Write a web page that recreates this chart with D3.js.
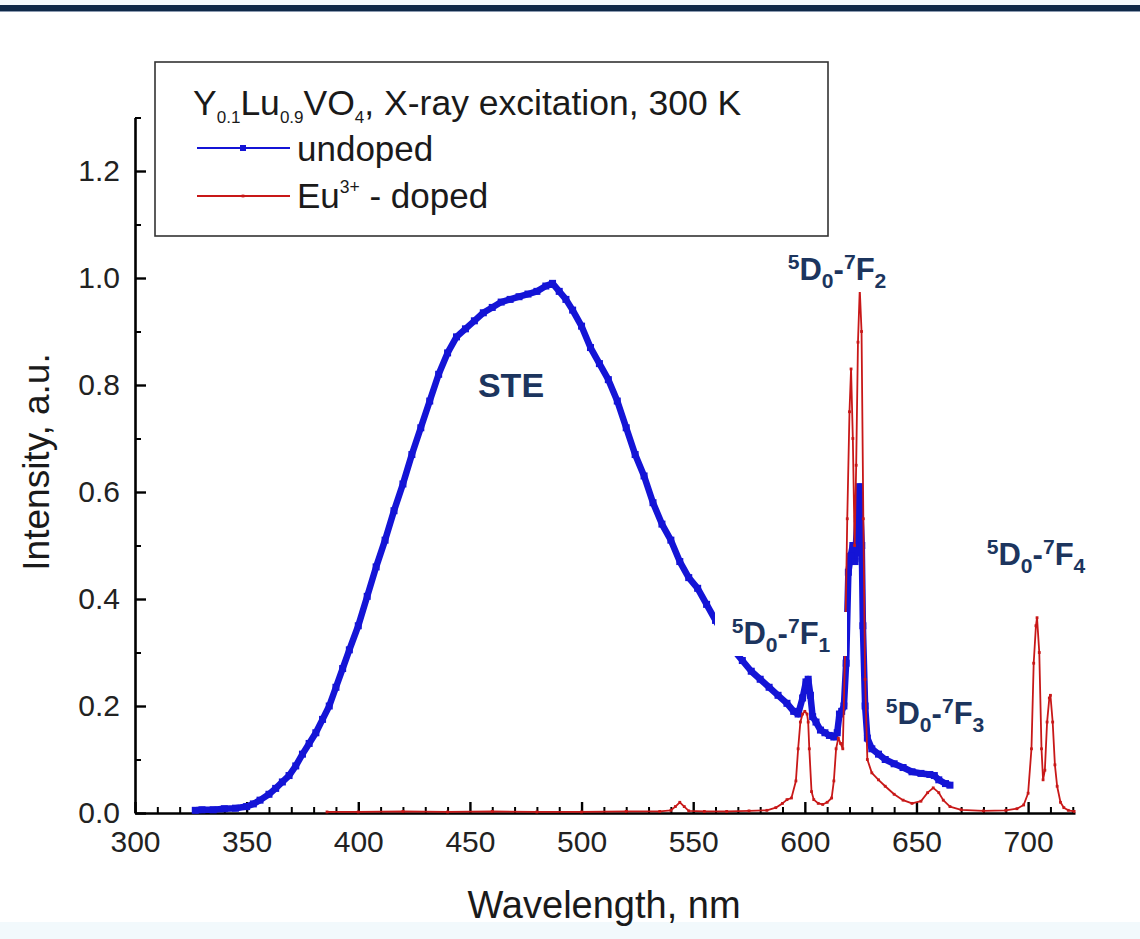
<!DOCTYPE html>
<html>
<head>
<meta charset="utf-8">
<script src="https://cdn.jsdelivr.net/npm/d3@7"></script>
<style>
  html, body { margin: 0; padding: 0; background: #ffffff; }
  svg { display: block; }
  text { font-family: Arial, "Liberation Sans", sans-serif; }
</style>
</head>
<body>
<svg id="chart" width="1140" height="939"></svg>
<script>
// Undoped Y0.1Lu0.9VO4 (STE band + weak Eu impurity lines)
const undopedWl = [327, 330, 335, 340, 345, 350, 353, 356, 360, 363, 366, 369, 372, 375, 378, 381, 384, 387, 390, 393, 396, 400,
  404, 408, 412, 416, 420, 424, 428, 432, 436, 440, 444, 448, 452, 456, 460, 464, 468, 472, 476, 480, 484, 487, 490, 493,
  496, 500, 504, 508, 512, 516, 520, 524, 528, 532, 536, 540, 544, 548, 552, 556, 560, 564, 568, 572, 576, 580, 584, 588,
  592, 595, 597, 599, 600.5, 601.5, 602.5, 603.5, 605, 607, 609, 611, 613, 614.5, 615.5, 616.5, 617.5, 618.5, 619.5,
  620.5, 621.5, 622.5, 623.5, 624.5, 625.5, 626, 627, 628, 630, 633, 636, 640, 644, 648, 652, 656, 658, 660, 663, 665];
const undopedI = [0.005, 0.006, 0.006, 0.008, 0.009, 0.012, 0.017, 0.024, 0.035, 0.046, 0.058, 0.07, 0.088, 0.11, 0.13, 0.15,
  0.175, 0.2, 0.235, 0.27, 0.305, 0.35, 0.405, 0.46, 0.51, 0.565, 0.615, 0.67, 0.72, 0.77, 0.82, 0.86, 0.89, 0.905, 0.92,
  0.935, 0.945, 0.955, 0.96, 0.965, 0.97, 0.975, 0.985, 0.99, 0.975, 0.96, 0.94, 0.91, 0.87, 0.84, 0.81, 0.77, 0.72, 0.67,
  0.63, 0.58, 0.54, 0.51, 0.47, 0.44, 0.42, 0.39, 0.36, 0.33, 0.305, 0.285, 0.265, 0.25, 0.235, 0.22, 0.205, 0.19, 0.185,
  0.215, 0.245, 0.25, 0.22, 0.18, 0.17, 0.155, 0.15, 0.145, 0.142, 0.15, 0.185, 0.19, 0.2, 0.28, 0.45, 0.48, 0.5, 0.47,
  0.55, 0.61, 0.5, 0.35, 0.2, 0.14, 0.12, 0.11, 0.1, 0.092, 0.085, 0.077, 0.074, 0.072, 0.07, 0.062, 0.055, 0.052];

// Eu3+-doped sample (5D0 -> 7FJ lines)
const dopedWl = [386, 400, 420, 440, 460, 480, 500, 520, 535, 540, 542, 544, 546, 548, 555, 565, 575, 583, 587, 590, 592, 594,
  596, 597, 598, 599, 600, 601, 601.5, 602, 603, 604, 606, 608, 610, 612, 613, 614, 615, 616, 617, 618, 619, 620, 620.7,
  621.5, 622.3, 623, 623.8, 624.6, 625.4, 626.2, 627, 628, 630, 633, 636, 640, 644, 648, 652, 655, 657.5, 660, 662, 665,
  670, 680, 690, 695, 698, 700, 701.5, 702.5, 703.5, 704, 705, 706, 706.7, 707.5, 708.5, 709.5, 710, 711, 712, 713, 714.5,
  716, 718, 720.6];
const dopedI = [0.002, 0.002, 0.003, 0.002, 0.003, 0.002, 0.002, 0.003, 0.003, 0.005, 0.012, 0.02, 0.012, 0.004, 0.003, 0.003,
  0.004, 0.005, 0.01, 0.018, 0.025, 0.028, 0.06, 0.12, 0.17, 0.185, 0.19, 0.185, 0.17, 0.12, 0.04, 0.025, 0.018, 0.016,
  0.02, 0.028, 0.06, 0.12, 0.14, 0.13, 0.12, 0.3, 0.55, 0.75, 0.83, 0.7, 0.5, 0.65, 0.88, 0.98, 0.9, 0.55, 0.25, 0.1,
  0.075, 0.062, 0.05, 0.035, 0.024, 0.018, 0.022, 0.038, 0.047, 0.038, 0.024, 0.012, 0.006, 0.004, 0.005, 0.008, 0.015,
  0.037, 0.12, 0.28, 0.35, 0.365, 0.3, 0.12, 0.062, 0.08, 0.17, 0.215, 0.22, 0.17, 0.09, 0.05, 0.02, 0.01, 0.005, 0.003];

const xMajorTicks = [300, 350, 400, 450, 500, 550, 600, 650, 700];
const yMajorTicks = [0, 0.2, 0.4, 0.6, 0.8, 1.0, 1.2];

const svg = d3.select("#chart");
const W = 1140, H = 939;

// page frame: dark rule along the top, pale strip at the bottom
svg.append("rect").attr("x", 0).attr("y", 0).attr("width", W).attr("height", H).attr("fill", "#ffffff");
svg.append("rect").attr("x", 0).attr("y", 0).attr("width", W).attr("height", 5).attr("fill", "#f4f9fc");
svg.append("rect").attr("x", 0).attr("y", 5).attr("width", W).attr("height", 6).attr("fill", "#0f2848");
svg.append("rect").attr("x", 0).attr("y", 11).attr("width", W).attr("height", 1).attr("fill", "#8b9ab0");
svg.append("rect").attr("x", 0).attr("y", 922).attr("width", W).attr("height", 17).attr("fill", "#f2f9fc");

const x = d3.scaleLinear().domain([300, 721]).range([135, 1075]);
const y = d3.scaleLinear().domain([0, 1.3]).range([813, 117.5]);

const axisColor = "#000";

// minor ticks
const xMinor = d3.range(310, 721, 10).filter(v => v % 50 !== 0);
const yMinor = d3.range(1, 14, 2).map(v => v / 10);

svg.append("g").attr("transform", `translate(0,${y(0)})`)
  .call(d3.axisBottom(x).tickValues(xMinor).tickSizeInner(-6).tickSizeOuter(0).tickFormat(""))
  .call(g => g.select(".domain").remove())
  .call(g => g.selectAll("line").attr("stroke", axisColor).attr("stroke-width", 2));

svg.append("g").attr("transform", `translate(${x(300)},0)`)
  .call(d3.axisLeft(y).tickValues(yMinor).tickSizeInner(-6).tickSizeOuter(0).tickFormat(""))
  .call(g => g.select(".domain").remove())
  .call(g => g.selectAll("line").attr("stroke", axisColor).attr("stroke-width", 2));

const xAxis = svg.append("g").attr("transform", `translate(0,${y(0)})`)
  .call(d3.axisBottom(x).tickValues(xMajorTicks).tickSizeInner(-11).tickSizeOuter(0).tickPadding(18).tickFormat(d3.format("d")));
xAxis.select(".domain").attr("stroke", axisColor).attr("stroke-width", 2.6);
xAxis.selectAll(".tick line").attr("stroke", axisColor).attr("stroke-width", 2.4);
xAxis.selectAll(".tick text").attr("fill", "#222").style("font-size", "30px");

const yAxis = svg.append("g").attr("transform", `translate(${x(300)},0)`)
  .call(d3.axisLeft(y).tickValues(yMajorTicks).tickSizeInner(-11).tickSizeOuter(0).tickPadding(15).tickFormat(d3.format(".1f")));
yAxis.select(".domain").attr("stroke", axisColor).attr("stroke-width", 2.6);
yAxis.selectAll(".tick line").attr("stroke", axisColor).attr("stroke-width", 2.4);
yAxis.selectAll(".tick text").attr("fill", "#222").style("font-size", "30px");

// axis titles
svg.append("text").attr("x", 604).attr("y", 918).attr("text-anchor", "middle")
  .style("font-size", "38px").attr("fill", "#1a1a1a").text("Wavelength, nm");
svg.append("text").attr("transform", "translate(49,462) rotate(-90)").attr("text-anchor", "middle")
  .style("font-size", "37px").attr("fill", "#1a1a1a").text("Intensity, a.u.");

// spectra
const undoped = undopedWl.map((w, i) => ({ w, v: undopedI[i] }));
const doped = dopedWl.map((w, i) => ({ w, v: dopedI[i] }));
const line = d3.line().x(d => x(d.w)).y(d => y(d.v));

const blue = "#1414d6";
const red = "#c81818";

svg.append("path").datum(undoped).attr("d", line).attr("fill", "none")
  .attr("stroke", blue).attr("stroke-width", 6.5).attr("stroke-linejoin", "round");
svg.append("g").selectAll("rect").data(undoped).join("rect")
  .attr("x", d => x(d.w) - 3.5).attr("y", d => y(d.v) - 3.5)
  .attr("width", 7).attr("height", 7).attr("fill", blue);

svg.append("path").datum(doped).attr("d", line).attr("fill", "none")
  .attr("stroke", red).attr("stroke-width", 1.8).attr("stroke-linejoin", "round");
svg.append("g").selectAll("rect").data(doped).join("rect")
  .attr("x", d => x(d.w) - 1.4).attr("y", d => y(d.v) - 1.4)
  .attr("width", 2.8).attr("height", 2.8).attr("fill", red);

// rich text helper: segments of [text, "sub" | "sup" | ""]
function richText(g, segs, size, smallScale, subShift, supShift) {
  const t = g.append("text").style("font-size", size + "px");
  let cur = 0;
  segs.forEach(([s, mode]) => {
    const target = mode === "sub" ? subShift : mode === "sup" ? -supShift : 0;
    t.append("tspan")
      .attr("dy", (target - cur) + "px")
      .style("font-size", (mode ? size * smallScale : size) + "px")
      .text(s);
    cur = target;
  });
  return t;
}

// legend
const lg = svg.append("g");
lg.append("rect").attr("x", 155).attr("y", 62).attr("width", 673).attr("height", 174)
  .attr("fill", "#fff").attr("stroke", "#333").attr("stroke-width", 1.6);
richText(lg.append("g").attr("transform", "translate(193,115)"),
  [["Y", ""], ["0.1", "sub"], ["Lu", ""], ["0.9", "sub"], ["VO", ""], ["4", "sub"], [", X-ray excitation, 300 K", ""]],
  35.5, 0.48, 8, 0).attr("fill", "#1a1a1a");
lg.append("line").attr("x1", 197).attr("x2", 290).attr("y1", 148).attr("y2", 148).attr("stroke", blue).attr("stroke-width", 1.8);
lg.append("rect").attr("x", 240).attr("y", 145).attr("width", 6).attr("height", 6).attr("fill", blue);
lg.append("line").attr("x1", 197).attr("x2", 290).attr("y1", 196).attr("y2", 196).attr("stroke", red).attr("stroke-width", 1.8);
lg.append("rect").attr("x", 241.6).attr("y", 194.6).attr("width", 2.8).attr("height", 2.8).attr("fill", red);
lg.append("text").attr("x", 297).attr("y", 161).style("font-size", "35px").attr("fill", "#1a1a1a").text("undoped");
richText(lg.append("g").attr("transform", "translate(297,208)"),
  [["Eu", ""], ["3+", "sup"], [" - doped", ""]], 35, 0.5, 0, 15).attr("fill", "#1a1a1a");

// transition labels on white plates
const navy = "#1c355e";
function transition(cx, baseline, j, plate) {
  const g = svg.append("g");
  if (plate) g.append("rect").attr("x", cx - plate[0] / 2).attr("y", baseline - 32)
    .attr("width", plate[0]).attr("height", plate[1]).attr("fill", "#fff");
  return richText(g, [["5", "sup"], ["D", ""], ["0", "sub"], ["-", ""], ["7", "sup"], ["F", ""], [String(j), "sub"]],
    31, 0.68, 8, 11).attr("fill", navy).style("font-weight", "bold").attr("text-anchor", "middle")
    .attr("x", cx).attr("y", baseline);
}
transition(837, 280, 2, [126, 44]);
transition(781, 644, 1, [132, 44]);
transition(935, 724, 3, null);
transition(1036, 565, 4, null);

svg.append("text").attr("x", 511).attr("y", 397).attr("text-anchor", "middle")
  .style("font-size", "34px").style("font-weight", "bold").attr("fill", navy).text("STE");
</script>
</body>
</html>
